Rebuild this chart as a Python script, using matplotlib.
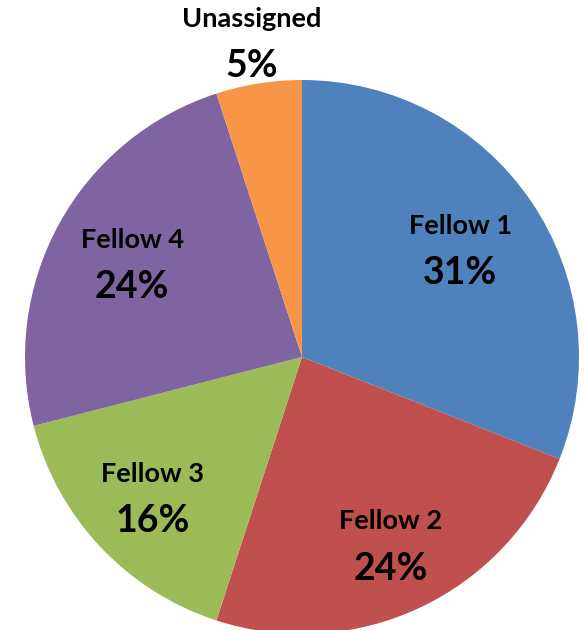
import numpy as np
import matplotlib
matplotlib.use("Agg")
import matplotlib.pyplot as plt

# Share of cases by fellow
names = ["Fellow 1", "Fellow 2", "Fellow 3", "Fellow 4", "Unassigned"]
shares = [31, 24, 16, 24, 5]
colors = ["#4f81bd", "#c0504d", "#9bbb59", "#8064a2", "#f79646"]

# how far from the centre each label sits (fraction of radius)
label_r = [0.69, 0.75, 0.74, 0.70, 1.15]

fig = plt.figure(figsize=(5.85, 6.3), dpi=100)
ax = fig.add_axes([25 / 585, -4 / 630, 554 / 585, 554 / 630])

wedges, _ = ax.pie(shares, colors=colors, startangle=90, counterclock=False,
                   radius=1.0, wedgeprops=dict(linewidth=0))
ax.set_xlim(-1, 1)
ax.set_ylim(-1, 1)
ax.set_aspect("equal")
ax.axis("off")

gap = 0.085
for w, name, val, r in zip(wedges, names, shares, label_r):
    mid = np.deg2rad((w.theta1 + w.theta2) / 2)
    x, y = r * np.cos(mid), r * np.sin(mid)
    ax.text(x, y + gap, name, ha="center", va="center", fontsize=19.5,
            fontweight="bold", family="Lato", clip_on=False)
    ax.text(x, y - gap, f"{val}%", ha="center", va="center", fontsize=27,
            fontweight="bold", family="Lato", clip_on=False)

fig.savefig("out.png", dpi=100)
